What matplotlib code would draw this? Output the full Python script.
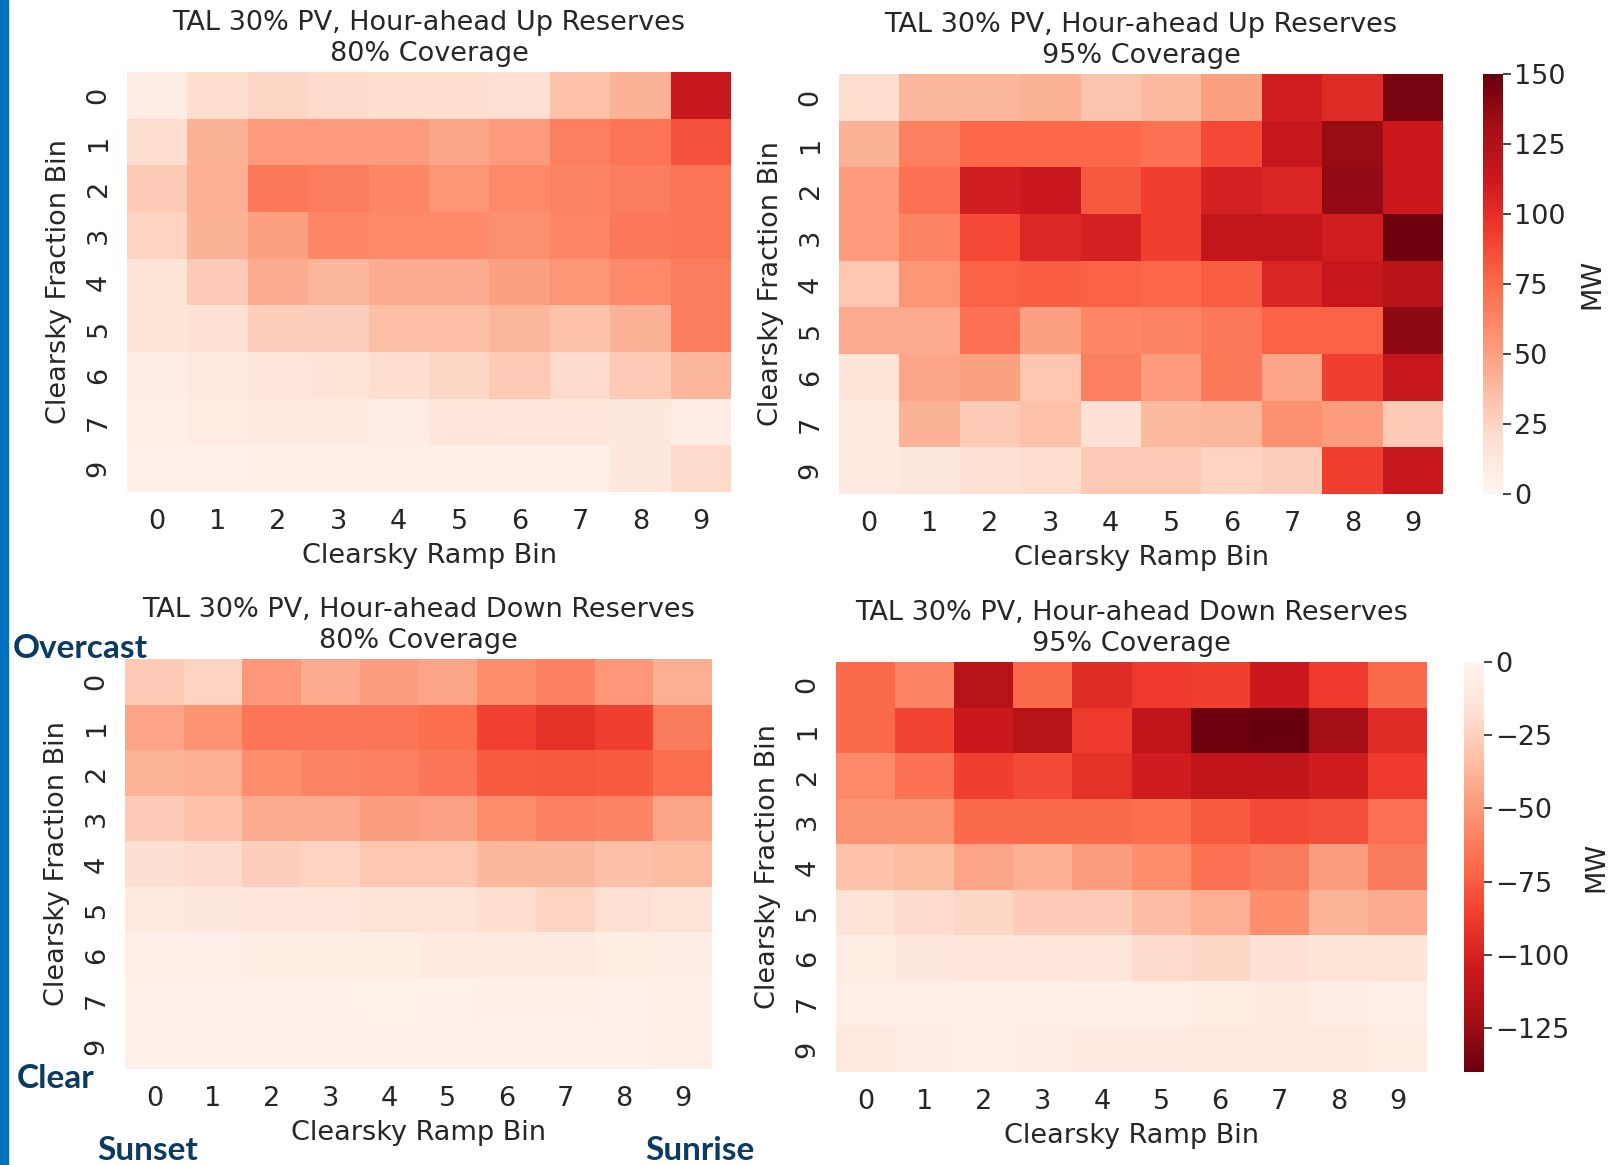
import numpy as np
import matplotlib
matplotlib.use("Agg")
import matplotlib.pyplot as plt
from matplotlib.patches import Rectangle
import seaborn as sns

# bin labels (fraction bin 8 has no data)
ramp_bins = [0, 1, 2, 3, 4, 5, 6, 7, 8, 9]
fraction_bins = [0, 1, 2, 3, 4, 5, 6, 7, 9]

# hour-ahead up reserves, MW
up_80 = [
    [8, 20, 24, 22, 20, 20, 18, 35, 42, 115],
    [20, 42, 52, 52, 52, 48, 52, 65, 70, 85],
    [30, 43, 68, 66, 62, 55, 60, 63, 66, 70],
    [25, 42, 50, 62, 60, 60, 58, 62, 68, 70],
    [15, 30, 45, 40, 45, 45, 50, 55, 60, 66],
    [15, 17, 28, 28, 36, 36, 40, 34, 42, 66],
    [8, 11, 14, 15, 20, 24, 30, 22, 30, 40],
    [7, 9, 10, 11, 8, 14, 14, 14, 13, 8],
    [5, 5, 6, 6, 6, 6, 7, 7, 13, 22],
]
up_95 = [
    [20, 40, 40, 42, 33, 38, 50, 110, 102, 145],
    [42, 65, 75, 75, 75, 72, 88, 115, 135, 112],
    [52, 72, 110, 112, 82, 92, 108, 105, 137, 112],
    [52, 63, 88, 104, 108, 92, 117, 117, 110, 148],
    [32, 55, 78, 80, 78, 76, 80, 105, 115, 122],
    [45, 45, 72, 50, 62, 63, 68, 78, 78, 138],
    [15, 48, 50, 32, 65, 52, 68, 48, 92, 115],
    [10, 42, 30, 35, 17, 38, 40, 57, 52, 30],
    [10, 12, 18, 20, 30, 30, 25, 28, 92, 115],
]

# hour-ahead down reserves, MW
down_80 = [
    [-28, -24, -50, -42, -48, -45, -55, -60, -50, -40],
    [-45, -52, -65, -65, -65, -68, -85, -92, -86, -62],
    [-38, -40, -55, -58, -60, -65, -75, -77, -75, -68],
    [-28, -32, -42, -42, -48, -46, -55, -60, -58, -45],
    [-18, -20, -26, -24, -30, -30, -37, -37, -33, -35],
    [-10, -11, -13, -13, -15, -15, -19, -24, -17, -15],
    [-5, -5, -8, -8, -8, -9, -9, -9, -8, -7],
    [-4, -4, -4, -4, -3, -4, -5, -5, -4, -5],
    [-4, -4, -4, -4, -4, -4, -4, -4, -4, -5],
]
down_95 = [
    [-70, -58, -115, -70, -95, -88, -86, -105, -88, -70],
    [-70, -84, -105, -115, -88, -110, -138, -140, -122, -95],
    [-56, -66, -86, -82, -92, -103, -110, -110, -103, -88],
    [-52, -52, -70, -70, -70, -68, -76, -82, -80, -67],
    [-32, -35, -45, -40, -48, -55, -66, -62, -48, -62],
    [-15, -20, -22, -27, -27, -34, -40, -55, -38, -42],
    [-8, -11, -13, -13, -13, -20, -22, -16, -14, -14],
    [-6, -6, -5, -5, -6, -6, -8, -9, -7, -6],
    [-10, -7, -6, -7, -9, -9, -10, -10, -10, -8],
]

W, H = 1619, 1165
fig = plt.figure(figsize=(W / 100, H / 100), dpi=100)
plt.rcParams['font.family'] = ['DejaVu Sans']
FS = 19.5
TXT = '#262626'


def px_box(left, top, right, bottom):
    return [left / W, 1 - bottom / H, (right - left) / W, (bottom - top) / H]


def draw(data, box, title, cmap, vmin, vmax, cbar_box=None, cticks=None):
    ax = fig.add_axes(px_box(*box))
    kw = dict(cmap=cmap, vmin=vmin, vmax=vmax, xticklabels=ramp_bins,
              yticklabels=fraction_bins, ax=ax)
    if cbar_box is not None:
        cax = fig.add_axes(px_box(*cbar_box))
        sns.heatmap(np.array(data), cbar_ax=cax, **kw)
        cax.set_yticks(cticks)
        cax.tick_params(labelsize=FS, length=6, width=1.2, colors=TXT, pad=2)
        cax.set_ylabel('MW', fontsize=FS, color=TXT, labelpad=10)
    else:
        sns.heatmap(np.array(data), cbar=False, **kw)
    ax.set_title(title, fontsize=FS, color=TXT, pad=8, linespacing=1.22)
    ax.set_xlabel('Clearsky Ramp Bin', fontsize=FS, color=TXT, labelpad=6)
    ax.set_ylabel('Clearsky Fraction Bin', fontsize=FS, color=TXT, labelpad=10)
    ax.tick_params(axis='both', length=0, labelsize=FS, colors=TXT)
    ax.tick_params(axis='x', pad=12)
    ax.tick_params(axis='y', pad=11)
    plt.setp(ax.get_yticklabels(), rotation=90, va='center')
    plt.setp(ax.get_xticklabels(), rotation=0)
    return ax


draw(up_80, (127, 72, 731, 492),
     'TAL 30% PV, Hour-ahead Up Reserves\n80% Coverage', 'Reds', 0, 150)
draw(up_95, (839, 74, 1443, 494),
     'TAL 30% PV, Hour-ahead Up Reserves\n95% Coverage', 'Reds', 0, 150,
     cbar_box=(1483, 74, 1503, 494), cticks=[0, 25, 50, 75, 100, 125, 150])
draw(down_80, (125, 659, 712, 1069),
     'TAL 30% PV, Hour-ahead Down Reserves\n80% Coverage', 'Reds_r', -140, 0)
draw(down_95, (836, 662, 1427, 1072),
     'TAL 30% PV, Hour-ahead Down Reserves\n95% Coverage', 'Reds_r', -140, 0,
     cbar_box=(1464, 662, 1484, 1072), cticks=[0, -25, -50, -75, -100, -125])

# side bar and orientation notes
fig.patches.append(Rectangle((0, 0), 8 / W, 1, transform=fig.transFigure,
                             color='#0070c0', zorder=5))
NOTE = dict(fontsize=24, fontweight='bold', color='#0b3b62', family='Lato',
            ha='center', va='center')
fig.text(80 / W, 1 - 649 / H, 'Overcast', **NOTE)
fig.text(56 / W, 1 - 1079 / H, 'Clear', **NOTE)
fig.text(148 / W, 1 - 1151 / H, 'Sunset', **NOTE)
fig.text(700 / W, 1 - 1151 / H, 'Sunrise', **NOTE)

fig.savefig('out.png', dpi=100)
